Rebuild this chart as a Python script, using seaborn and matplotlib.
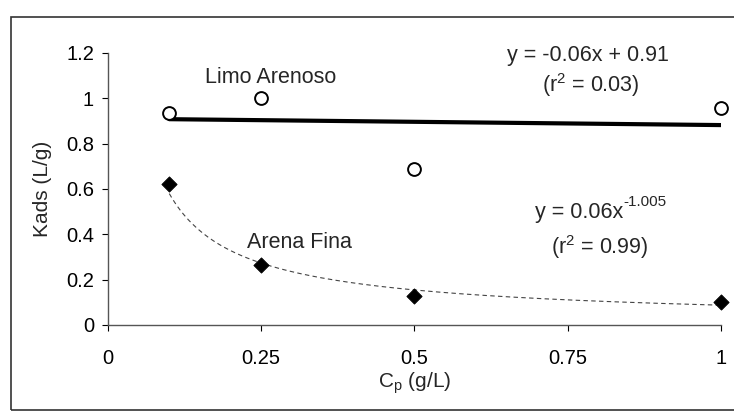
import numpy as np
import pandas as pd
import matplotlib
matplotlib.use("Agg")
import matplotlib.pyplot as plt
from matplotlib.patches import Rectangle
import seaborn as sns

# Data
cp_limo = [0.1, 0.25, 0.5, 1.0]
kads_limo = [0.935, 1.0, 0.69, 0.957]
cp_arena = [0.1, 0.25, 0.5, 1.0]
kads_arena = [0.622, 0.265, 0.13, 0.10]
lin_fit_x = [0.1, 1.0]
lin_fit_y = [0.908, 0.882]
x_ticks = [0, 0.25, 0.5, 0.75, 1]
x_tick_labels = ["0", "0.25", "0.5", "0.75", "1"]
y_ticks = [0, 0.2, 0.4, 0.6, 0.8, 1, 1.2]
y_tick_labels = ["0", "0.2", "0.4", "0.6", "0.8", "1", "1.2"]

sns.set_theme(style="white")
plt.rcParams['font.family'] = ['Liberation Sans', 'DejaVu Sans']

fig = plt.figure(figsize=(7.34, 4.13), dpi=100)
ax = fig.add_axes([108/734, 1-325/413, (721-108)/734, (325-53)/413])

df_l = pd.DataFrame({"Cp": cp_limo, "K": kads_limo})
df_a = pd.DataFrame({"Cp": cp_arena, "K": kads_arena})

# power fit (trend line) from the data
b, lna = np.polyfit(np.log(cp_arena), np.log(kads_arena), 1)
xs = np.linspace(0.1, 1.0, 200)
df_fit = pd.DataFrame({"Cp": xs, "K": np.exp(lna) * xs ** b})
sns.lineplot(data=df_fit, x="Cp", y="K", ax=ax, color="#444444", lw=0.8,
             linestyle=(0, (4, 3)), zorder=2)

df_lin = pd.DataFrame({"Cp": lin_fit_x, "K": lin_fit_y})
sns.lineplot(data=df_lin, x="Cp", y="K", ax=ax, color="black", lw=3, zorder=2)

sns.scatterplot(data=df_l, x="Cp", y="K", ax=ax, marker="o", s=85,
                facecolor="white", edgecolor="black", linewidth=1.4, zorder=3,
                clip_on=False)
sns.scatterplot(data=df_a, x="Cp", y="K", ax=ax, marker="D", s=60,
                color="black", edgecolor="black", zorder=3, clip_on=False)

ax.set_xlim(0, 1)
ax.set_ylim(0, 1.2)
ax.set_xticks(x_ticks)
ax.set_xticklabels(x_tick_labels)
ax.set_yticks(y_ticks)
ax.set_yticklabels(y_tick_labels)
ax.tick_params(axis="both", labelsize=14.5, colors="black", length=4, width=0.8,
               direction="out", pad=6)
ax.tick_params(axis="x", pad=13)
for s in ["top", "right"]:
    ax.spines[s].set_visible(False)
for s in ["left", "bottom"]:
    ax.spines[s].set_color("#555555")
    ax.spines[s].set_linewidth(1.0)
ax.xaxis.set_ticks_position("bottom")
ax.yaxis.set_ticks_position("left")

ax.set_xlabel(r"C$_\mathregular{p}$ (g/L)", fontsize=15, labelpad=2)
ax.set_ylabel("Kads (L/g)", fontsize=15, labelpad=10)

fs = 15.5
ax.text(0.266, 1.09, "Limo Arenoso", fontsize=fs, ha="center", va="center")
ax.text(0.783, 1.19, "y = -0.06x + 0.91", fontsize=fs, ha="center", va="center")
ax.text(0.788, 1.06, r"(r$^\mathregular{2}$ = 0.03)", fontsize=fs, ha="center", va="center")
t = ax.text(0.768, 0.498, "y = 0.06x", fontsize=fs, ha="center", va="center")
ax.annotate("-1.005", xy=(1, 0.5), xycoords=t, xytext=(0.5, 2),
            textcoords="offset points", fontsize=11, ha="left", va="bottom")
ax.text(0.803, 0.345, r"(r$^\mathregular{2}$ = 0.99)", fontsize=fs, ha="center", va="center")
ax.text(0.313, 0.362, "Arena Fina", fontsize=fs, ha="center", va="center")

# figure border
rect = Rectangle((11/734, 1-410/413), 1.0, (410-17)/413, transform=fig.transFigure,
                 fill=False, edgecolor="#333333", lw=1.2, clip_on=False)
fig.patches.append(rect)

fig.savefig("out.png", dpi=100)
